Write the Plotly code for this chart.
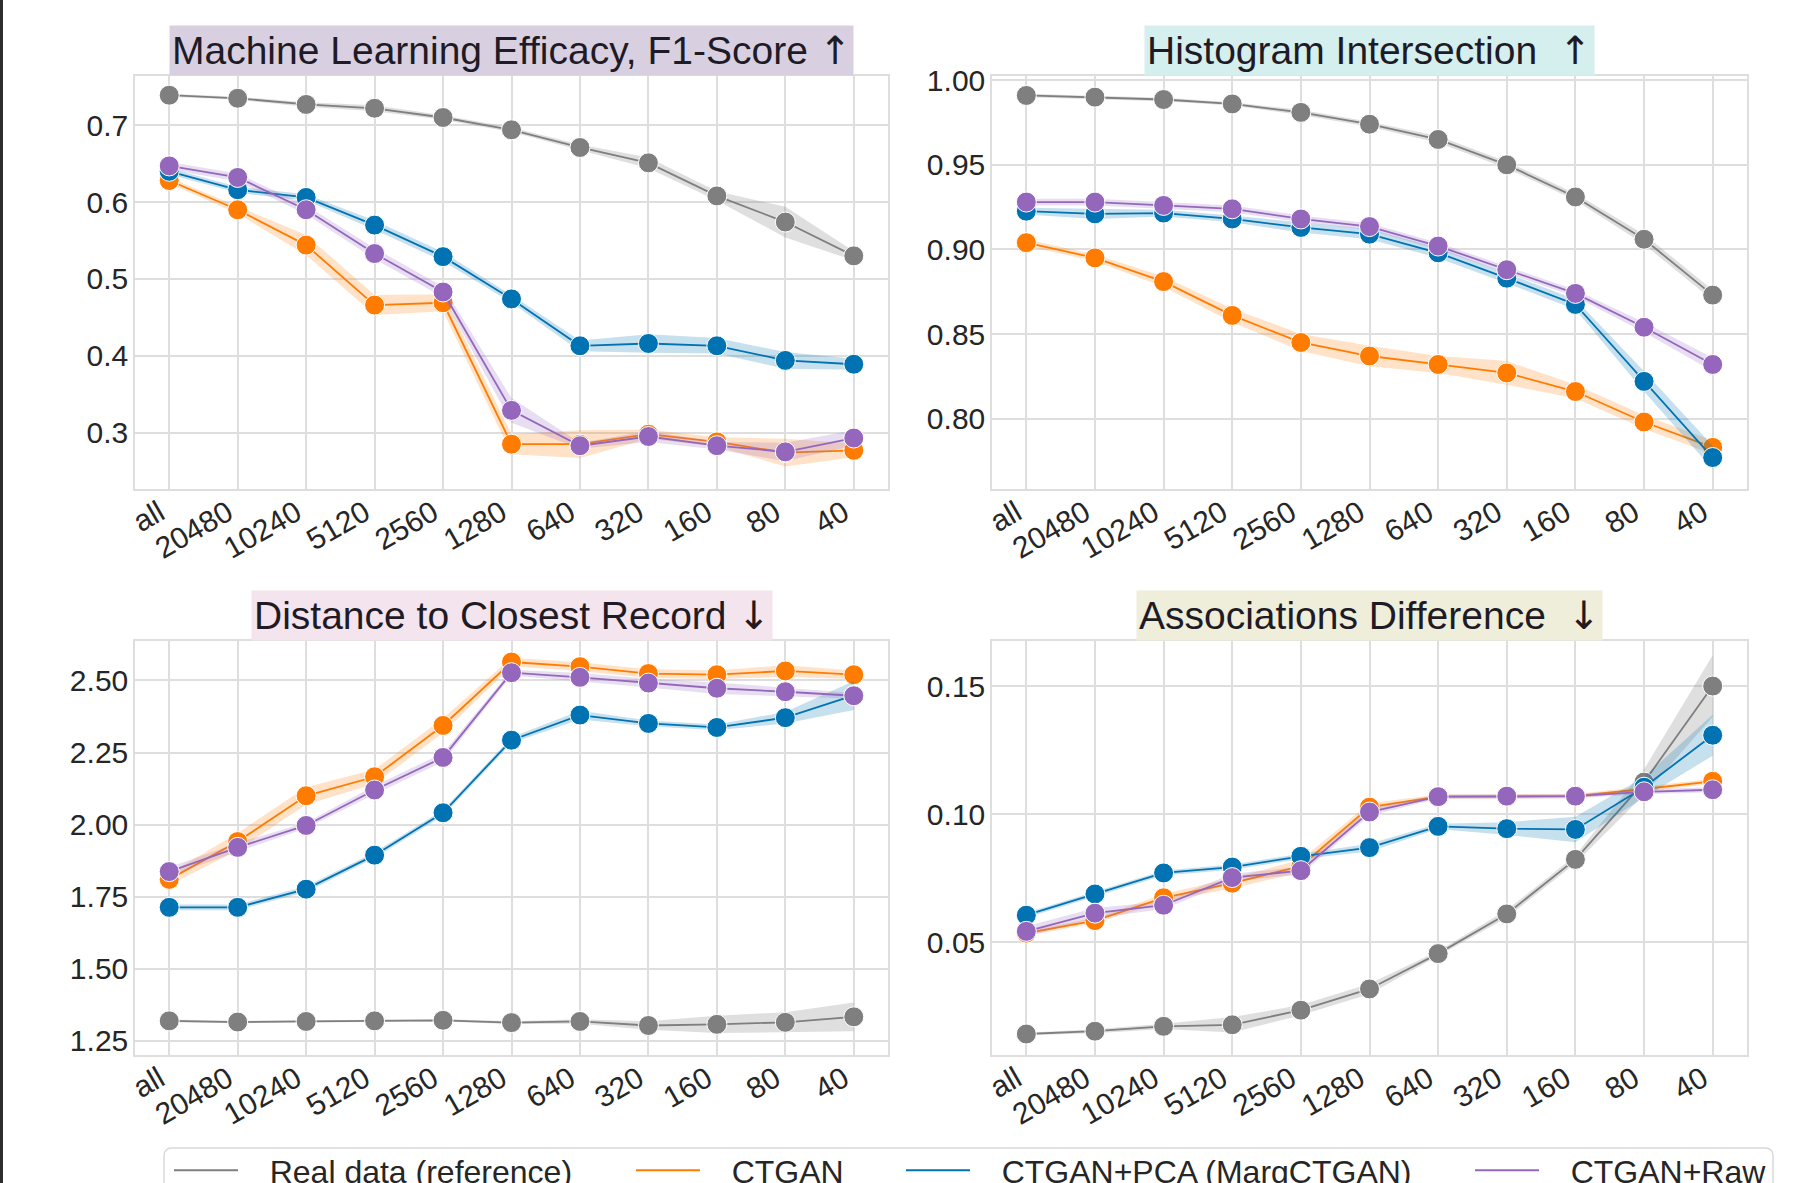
import plotly.graph_objects as go

# ---------------- data ----------------
categories = ["all", "20480", "10240", "5120", "2560", "1280", "640", "320", "160", "80", "40"]
series_names = ["Real data (reference)", "CTGAN", "CTGAN+PCA (MargCTGAN)", "CTGAN+Raw"]

# Panel 1: Machine Learning Efficacy, F1-Score
f1_real = [0.739, 0.735, 0.727, 0.722, 0.710, 0.694, 0.671, 0.651, 0.608, 0.574, 0.530]
f1_real_ci = [0.002, 0.002, 0.003, 0.004, 0.003, 0.003, 0.004, 0.007, 0.006, 0.020, 0.006]
f1_ctgan = [0.628, 0.590, 0.544, 0.466, 0.469, 0.285, 0.285, 0.298, 0.288, 0.274, 0.277]
f1_ctgan_ci = [0.004, 0.005, 0.013, 0.013, 0.011, 0.013, 0.018, 0.006, 0.006, 0.018, 0.009]
f1_pca = [0.640, 0.616, 0.606, 0.570, 0.529, 0.474, 0.413, 0.416, 0.413, 0.394, 0.389]
f1_pca_ci = [0.004, 0.004, 0.004, 0.006, 0.006, 0.005, 0.007, 0.012, 0.010, 0.011, 0.007]
f1_raw = [0.647, 0.632, 0.590, 0.533, 0.483, 0.329, 0.283, 0.295, 0.283, 0.275, 0.293]
f1_raw_ci = [0.005, 0.005, 0.006, 0.007, 0.007, 0.016, 0.004, 0.007, 0.005, 0.012, 0.010]

# Panel 2: Histogram Intersection
hi_real = [0.991, 0.990, 0.9886, 0.986, 0.981, 0.974, 0.965, 0.950, 0.931, 0.906, 0.873]
hi_real_ci = [0.001, 0.001, 0.001, 0.001, 0.0015, 0.0015, 0.002, 0.002, 0.002, 0.003, 0.003]
hi_ctgan = [0.904, 0.895, 0.881, 0.861, 0.845, 0.837, 0.832, 0.827, 0.816, 0.798, 0.783]
hi_ctgan_ci = [0.002, 0.002, 0.003, 0.004, 0.005, 0.006, 0.005, 0.007, 0.004, 0.004, 0.004]
hi_pca = [0.9226, 0.921, 0.9215, 0.918, 0.913, 0.909, 0.898, 0.883, 0.8675, 0.822, 0.777]
hi_pca_ci = [0.002, 0.003, 0.002, 0.002, 0.003, 0.003, 0.003, 0.003, 0.003, 0.006, 0.007]
hi_raw = [0.928, 0.928, 0.926, 0.924, 0.918, 0.9135, 0.902, 0.888, 0.874, 0.854, 0.832]
hi_raw_ci = [0.002, 0.002, 0.002, 0.002, 0.002, 0.002, 0.002, 0.002, 0.002, 0.003, 0.004]

# Panel 3: Distance to Closest Record
dcr_real = [1.319, 1.315, 1.317, 1.319, 1.321, 1.313, 1.317, 1.303, 1.307, 1.314, 1.333]
dcr_real_ci = [0.005, 0.004, 0.004, 0.004, 0.004, 0.005, 0.008, 0.015, 0.030, 0.035, 0.050]
dcr_ctgan = [1.810, 1.941, 2.100, 2.166, 2.344, 2.564, 2.548, 2.524, 2.520, 2.533, 2.520]
dcr_ctgan_ci = [0.020, 0.030, 0.030, 0.025, 0.025, 0.015, 0.015, 0.015, 0.015, 0.020, 0.015]
dcr_pca = [1.713, 1.713, 1.776, 1.894, 2.041, 2.293, 2.380, 2.351, 2.337, 2.371, 2.448]
dcr_pca_ci = [0.010, 0.010, 0.010, 0.010, 0.010, 0.010, 0.015, 0.010, 0.010, 0.020, 0.050]
dcr_raw = [1.837, 1.921, 1.997, 2.120, 2.233, 2.527, 2.511, 2.491, 2.473, 2.461, 2.447]
dcr_raw_ci = [0.015, 0.015, 0.010, 0.015, 0.015, 0.010, 0.015, 0.015, 0.020, 0.015, 0.010]

# Panel 4: Associations Difference
ad_real = [0.0141, 0.0152, 0.0171, 0.0177, 0.0234, 0.0317, 0.0455, 0.0610, 0.0823, 0.1125, 0.150]
ad_real_ci = [0.0005, 0.0008, 0.001, 0.003, 0.002, 0.002, 0.001, 0.0015, 0.0015, 0.005, 0.012]
ad_ctgan = [0.0535, 0.0584, 0.0673, 0.0730, 0.0797, 0.1027, 0.1068, 0.1068, 0.1070, 0.1098, 0.1128]
ad_ctgan_ci = [0.001, 0.001, 0.0015, 0.002, 0.0025, 0.0015, 0.0008, 0.0008, 0.0008, 0.001, 0.001]
ad_pca = [0.0605, 0.0688, 0.0770, 0.0793, 0.0835, 0.0869, 0.0952, 0.0943, 0.0940, 0.1105, 0.1308]
ad_pca_ci = [0.001, 0.001, 0.001, 0.001, 0.001, 0.0015, 0.001, 0.0025, 0.005, 0.004, 0.008]
ad_raw = [0.0542, 0.0613, 0.0644, 0.0752, 0.0779, 0.1008, 0.1068, 0.1070, 0.1070, 0.1087, 0.1095]
ad_raw_ci = [0.002, 0.002, 0.0015, 0.0015, 0.0015, 0.0015, 0.0008, 0.0008, 0.0008, 0.001, 0.001]

ARROW = '<span style="font-family:DejaVu Sans">{}</span>'
panel_titles = [
    "Machine Learning Efficacy, F1-Score " + ARROW.format("\u2191"),
    "Histogram Intersection\u00a0\u00a0" + ARROW.format("\u2191"),
    "Distance to Closest Record " + ARROW.format("\u2193"),
    "Associations Difference\u00a0\u00a0" + ARROW.format("\u2193"),
]
y_ticks = [
    [0.3, 0.4, 0.5, 0.6, 0.7],
    [0.80, 0.85, 0.90, 0.95, 1.00],
    [1.25, 1.50, 1.75, 2.00, 2.25, 2.50],
    [0.05, 0.10, 0.15],
]
y_ranges = [[0.2267, 0.764], [0.7584, 1.0025], [1.2006, 2.637], [0.0059, 0.1676]]
y_formats = [".1f", ".2f", ".2f", ".2f"]

panels = [
    [(f1_real, f1_real_ci), (f1_ctgan, f1_ctgan_ci), (f1_pca, f1_pca_ci), (f1_raw, f1_raw_ci)],
    [(hi_real, hi_real_ci), (hi_ctgan, hi_ctgan_ci), (hi_pca, hi_pca_ci), (hi_raw, hi_raw_ci)],
    [(dcr_real, dcr_real_ci), (dcr_ctgan, dcr_ctgan_ci), (dcr_pca, dcr_pca_ci), (dcr_raw, dcr_raw_ci)],
    [(ad_real, ad_real_ci), (ad_ctgan, ad_ctgan_ci), (ad_pca, ad_pca_ci), (ad_raw, ad_raw_ci)],
]

# ---------------- style ----------------
W, H = 1809, 1183
colors = ["#7f7f7f", "#ff7c00", "#0173b2", "#9467bd"]
band_colors = ["rgba(127,127,127,0.25)", "rgba(255,124,0,0.22)", "rgba(1,115,178,0.22)", "rgba(148,103,189,0.22)"]
title_bg = ["#d8d0e1", "#d5eeee", "#f4e4ee", "#eeeedb"]
FONT = "Liberation Sans, Arial, sans-serif"
TXT = "#262626"
GRID = "#dedede"

def px_x(v):
    return v / W

def px_y(v):
    return 1 - v / H

x_domains = [[px_x(135), px_x(888)], [px_x(992), px_x(1747)], [px_x(135), px_x(888)], [px_x(992), px_x(1747)]]
y_domains = [[px_y(489), px_y(76)], [px_y(489), px_y(76)], [px_y(1055), px_y(641)], [px_y(1055), px_y(641)]]

fig = go.Figure()

for p, series in enumerate(panels):
    ax = "" if p == 0 else str(p + 1)
    for s, (vals, ci) in enumerate(series):
        upper = [v + e for v, e in zip(vals, ci)]
        lower = [v - e for v, e in zip(vals, ci)]
        fig.add_trace(go.Scatter(
            x=categories + categories[::-1], y=upper + lower[::-1],
            fill="toself", fillcolor=band_colors[s], line=dict(width=0),
            mode="lines", hoverinfo="skip", showlegend=False,
            xaxis="x" + ax, yaxis="y" + ax))
        fig.add_trace(go.Scatter(
            x=categories, y=vals, mode="lines+markers", name=series_names[s],
            line=dict(color=colors[s], width=1.8),
            marker=dict(color=colors[s], size=20, line=dict(color="white", width=1)),
            showlegend=False, xaxis="x" + ax, yaxis="y" + ax))

# legend-only entries (line keys), each in its own legend for exact placement
legend_x_px = [169, 631, 901, 1470]
NB = "\u00a0\u00a0\u00a0"
for s, name in enumerate(series_names):
    lg = "legend" if s == 0 else "legend" + str(s + 1)
    fig.add_trace(go.Scatter(
        x=[None], y=[None], mode="lines", name=NB + name,
        line=dict(color=colors[s], width=2), showlegend=True, legend=lg,
        xaxis="x", yaxis="y"))

layout = dict(
    width=W, height=H,
    margin=dict(l=0, r=0, t=0, b=0, autoexpand=False),
    paper_bgcolor="white", plot_bgcolor="white",
    font=dict(family=FONT, color=TXT, size=30),
    annotations=[], shapes=[],
)

for p in range(4):
    ax = "" if p == 0 else str(p + 1)
    layout["xaxis" + ax] = dict(
        domain=x_domains[p], anchor="y" + ax, type="category",
        categoryorder="array", categoryarray=categories, range=[-0.5, 10.5],
        showgrid=True, gridcolor=GRID, gridwidth=1.5,
        showline=True, linecolor=GRID, linewidth=1.5, mirror=True,
        tickangle=-30, tickfont=dict(size=30, color=TXT, family=FONT),
        ticks="", ticklabelstandoff=-7, ticklabelshift=-10,
        zeroline=False, fixedrange=True)
    layout["yaxis" + ax] = dict(
        domain=y_domains[p], anchor="x" + ax, range=y_ranges[p],
        tickvals=y_ticks[p], tickformat=y_formats[p],
        showgrid=True, gridcolor=GRID, gridwidth=1.5,
        showline=True, linecolor=GRID, linewidth=1.5, mirror=True,
        tickfont=dict(size=30, color=TXT, family=FONT),
        ticks="", ticklabelstandoff=-1, zeroline=False, fixedrange=True)
    layout["annotations"].append(dict(
        text=panel_titles[p], xref="paper", yref="paper",
        x=(x_domains[p][0] + x_domains[p][1]) / 2, y=y_domains[p][1],
        xanchor="center", yanchor="bottom", showarrow=False,
        bgcolor=title_bg[p], borderpad=2,
        font=dict(size=39, color="#1f1b26", family=FONT)))

for s in range(4):
    lg = "legend" if s == 0 else "legend" + str(s + 1)
    layout[lg] = dict(
        x=px_x(legend_x_px[s]), xanchor="left", y=px_y(1143), yanchor="top",
        orientation="h", bgcolor="rgba(0,0,0,0)", borderwidth=0,
        font=dict(size=32, color=TXT, family=FONT), itemwidth=64)

# legend frame (rounded) and left dark edge
x0, x1, y0, y1 = px_x(164), px_x(1773), px_y(1148), px_y(1230)
rx, ry = 8 / W, 8 / H
path = (f"M {x0+rx},{y0} L {x1-rx},{y0} Q {x1},{y0} {x1},{y0-ry} L {x1},{y1} "
        f"L {x0},{y1} L {x0},{y0-ry} Q {x0},{y0} {x0+rx},{y0} Z")
layout["shapes"].append(dict(type="path", path=path, xref="paper", yref="paper",
                             line=dict(color="#d9d9d9", width=1.5), fillcolor="rgba(0,0,0,0)"))
layout["shapes"].append(dict(type="rect", xref="paper", yref="paper",
                             x0=0, x1=3 / W, y0=0, y1=1,
                             fillcolor="#2e2e2e", line=dict(width=0)))

fig.update_layout(**layout)
fig.write_html("out.html",
               config={"displayModeBar": False},
               post_script="document.body.style.margin='0';document.body.style.overflow='hidden';")
